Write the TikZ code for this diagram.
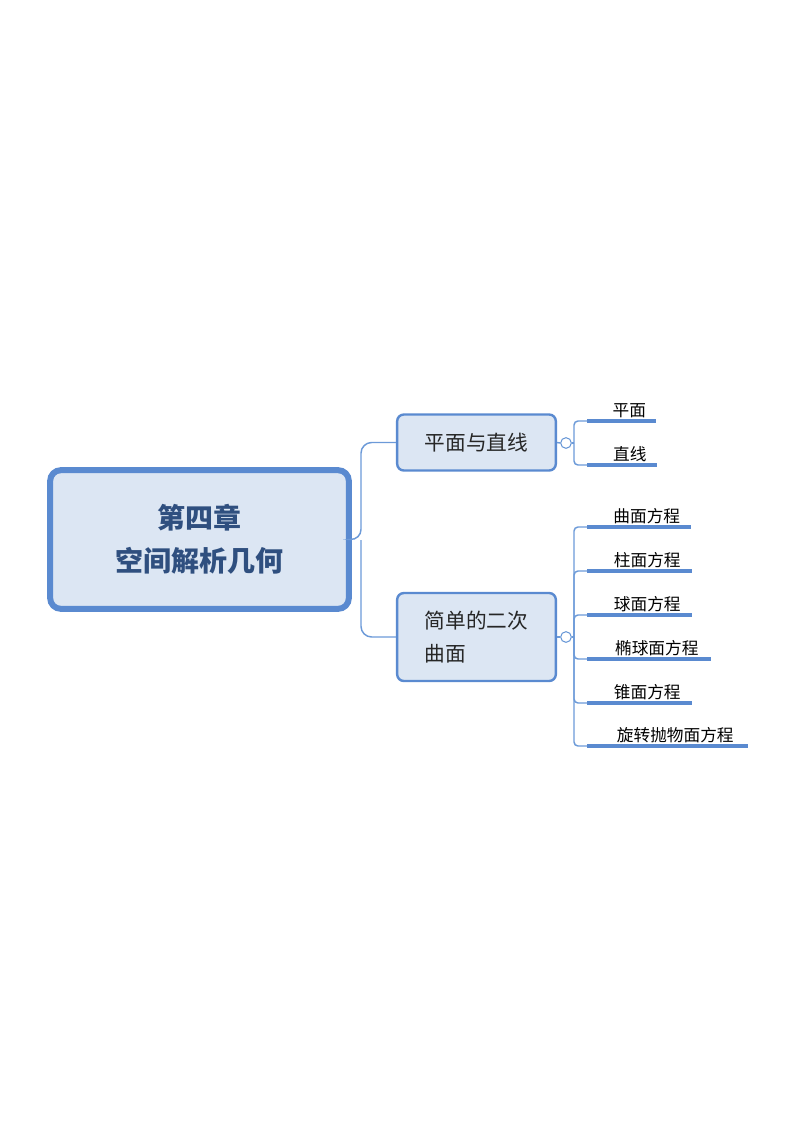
\documentclass[tikz,border=0pt]{standalone}
\usepackage{fontspec}
\newfontfamily\cjk{Noto Sans CJK SC}
\begin{document}
\begin{tikzpicture}[x=0.75pt,y=-0.75pt,
  rootbox/.style={draw=c1,line width=4.5pt,fill=cf,rounded corners=8pt,minimum width=224pt,minimum height=104pt,font=\cjk\bfseries\fontsize{21}{32}\selectfont,text=ct,align=center},
  subbox/.style={draw=c1,line width=1.8pt,fill=cf,rounded corners=5pt,minimum width=119pt,text=black!85,font=\cjk\fontsize{15.5}{25}\selectfont,align=left},
  leaf/.style={anchor=south west,inner sep=0pt,font=\cjk\fontsize{12.5}{14}\selectfont,text depth=0pt,text height=11pt,minimum height=17pt,text=black},
  uline/.style={draw=c1,line width=2.3pt},
  conn/.style={draw=c2,line width=1.1pt},
  tog/.style={circle,draw=c2,line width=0.8pt,fill=white,inner sep=0pt,minimum size=8pt}]
\definecolor{c1}{HTML}{5A8AD0}
\definecolor{c2}{HTML}{6C9AD8}
\definecolor{cf}{HTML}{DCE6F3}
\definecolor{ct}{HTML}{2F4F7F}
\useasboundingbox (0,0) rectangle (800,1132);
\node[rootbox] (root) at (199.5,539.5) {第四章\\空间解析几何};
\node[subbox,minimum height=42pt] (s1) at (476.5,442.5) {平面与直线};
\node[subbox,minimum height=66pt] (s2) at (476.5,637) {简单的二次\\曲面};
\coordinate (j) at (361,540);
\draw[conn,rounded corners=8pt] (root.east) -- (j) |- (s1.west);
\draw[conn,rounded corners=8pt] (j) |- (s2.west);
\node[tog] (t1) at (566,443) {};
\node[tog] (t2) at (566,637) {};
\draw[conn] (s1.east) -- (t1.west);
\draw[conn] (s2.east) -- (t2.west);
\draw[conn] (t1.east) -- (574,443) coordinate (b1);
\draw[conn] (t2.east) -- (574,637) coordinate (b2);
% leaves of s1
\foreach \n/\y/\w/\t in {a/421/68/平面,b/465/69/直线}{
  \node[leaf,minimum width=\w*0.75pt] (l\n) at (587,\y) {\hspace{12pt}\t};
  \draw[uline] (l\n.south west) -- (l\n.south east);
  \draw[conn,rounded corners=3pt] (b1) |- (l\n.south west);
}
\foreach \n/\y/\w/\t in {c/527/103/曲面方程,d/571/104/柱面方程,e/615/104/球面方程,f/659/123/椭球面方程,g/703/104/锥面方程,h/746/160/旋转抛物面方程}{
  \node[leaf,minimum width=\w*0.75pt] (l\n) at (587,\y) {\hspace{12pt}\t};
  \draw[uline] (l\n.south west) -- (l\n.south east);
  \draw[conn,rounded corners=3pt] (b2) |- (l\n.south west);
}
\end{tikzpicture}
\end{document}
